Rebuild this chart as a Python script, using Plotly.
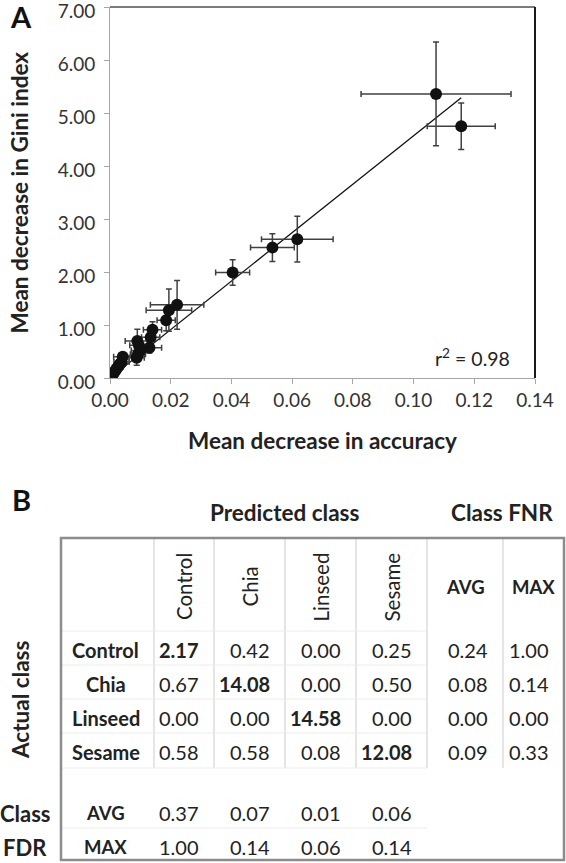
import plotly.graph_objects as go

# ---------------- Panel A data ----------------
acc = [0.1074, 0.1157, 0.0617, 0.0535, 0.0404, 0.0221, 0.0194, 0.0185, 0.0140, 0.0134,
       0.0130, 0.0090, 0.0095, 0.0100, 0.0092, 0.0088, 0.0042, 0.0038, 0.0032, 0.0028,
       0.0022, 0.0018, 0.0013, 0.0009, 0.0006, 0.0003, 0.0001, 0.0000]
acc_err = [0.0247, 0.0112, 0.0118, 0.0072, 0.0056, 0.0088, 0.0075, 0.0030, 0.0030, 0.0030,
           0.0040, 0.0040, 0.0030, 0.0030, 0.0025, 0.0025, 0.0030, 0.0025, 0.0015, 0.0015,
           0.0012, 0.0010, 0.0008, 0.0006, 0.0004, 0.0003, 0.0002, 0.0001]
gini = [5.36, 4.75, 2.62, 2.46, 1.99, 1.38, 1.28, 1.09, 0.91, 0.77,
        0.57, 0.70, 0.62, 0.52, 0.45, 0.38, 0.40, 0.30, 0.26, 0.22,
        0.18, 0.14, 0.10, 0.07, 0.05, 0.03, 0.01, 0.00]
gini_err = [0.98, 0.44, 0.43, 0.26, 0.24, 0.46, 0.40, 0.20, 0.15, 0.15,
            0.10, 0.22, 0.15, 0.12, 0.12, 0.14, 0.06, 0.08, 0.05, 0.05,
            0.04, 0.03, 0.03, 0.02, 0.02, 0.01, 0.01, 0.01]
fit_slope = 45.7
fit_intercept = 0.0
fit_x = [0.0, 0.1157]
r2_text = "r<sup>2</sup> = 0.98"
x_ticks = [0.00, 0.02, 0.04, 0.06, 0.08, 0.10, 0.12, 0.14]
y_ticks = [0, 1, 2, 3, 4, 5, 6, 7]

# ---------------- Panel B data ----------------
classes = ["Control", "Chia", "Linseed", "Sesame"]
conf = [
    [2.17, 0.42, 0.00, 0.25],
    [0.67, 14.08, 0.00, 0.50],
    [0.00, 0.00, 14.58, 0.00],
    [0.58, 0.58, 0.08, 12.08],
]
fnr_avg = [0.24, 0.08, 0.00, 0.09]
fnr_max = [1.00, 0.14, 0.00, 0.33]
fdr_avg = [0.37, 0.07, 0.01, 0.06]
fdr_max = [1.00, 0.14, 0.06, 0.14]

# ---------------- layout constants ----------------
W, H = 566, 863
FONT = "Lato"
TXT = "#222222"
col_edges = [61, 154, 214, 285, 356, 427, 503, 564]
row_centers = [650, 684, 718, 752]
fdr_centers = [813, 847]
hdr_y = 587

fig = go.Figure()

fig.add_trace(go.Scatter(
    x=fit_x, y=[fit_intercept + fit_slope * v for v in fit_x],
    mode="lines", line=dict(color="#111111", width=1.3),
    showlegend=False, hoverinfo="skip"))

fig.add_trace(go.Scatter(
    x=acc, y=gini, mode="markers",
    marker=dict(color="#111111", size=12),
    error_x=dict(type="data", array=acc_err, color="#404040", thickness=1.5, width=3),
    error_y=dict(type="data", array=gini_err, color="#404040", thickness=1.5, width=3),
    showlegend=False))

ann = []
shapes = []

def fx(x):
    return x / W

def fy(y):
    return 1 - y / H

def px(x, y, text, size=20, bold=False, xanchor="center", angle=0, color=TXT):
    ann.append(dict(x=fx(x), y=fy(y), xref="paper", yref="paper",
                    text=(f"<b>{text}</b>" if bold else text),
                    showarrow=False, xanchor=xanchor, yanchor="middle", textangle=angle,
                    font=dict(family=FONT, size=size, color=color)))

def line(x0, y0, x1, y1, color, width):
    shapes.append(dict(type="line", xref="paper", yref="paper",
                       x0=fx(x0), y0=fy(y0), x1=fx(x1), y1=fy(y1),
                       line=dict(color=color, width=width), layer="below"))

# Panel A labels
px(21, 17, "A", size=29, bold=True, color="#111111")
px(19, 192.5, "Mean decrease in Gini index", size=22.5, bold=True, angle=-90)
px(322.5, 440, "Mean decrease in accuracy", size=22.5, bold=True)
px(472, 357, r2_text, size=19.5)

# plot frame (top, right)
shapes.append(dict(type="line", xref="x domain", yref="y domain", x0=0, y0=1, x1=1, y1=1,
                   line=dict(color="#505050", width=1.5)))
shapes.append(dict(type="line", xref="x domain", yref="y domain", x0=1, y0=0, x1=1, y1=1,
                   line=dict(color="#1a1a1a", width=2)))

# Panel B
px(21, 499, "B", size=29, bold=True, color="#111111")
px(284, 512, "Predicted class", size=22.5, bold=True)
px(502, 512, "Class FNR", size=22.5, bold=True)
px(20, 700, "Actual class", size=22.5, bold=True, angle=-90)
px(25, fdr_centers[0], "Class", size=22, bold=True)
px(25, fdr_centers[1], "FDR", size=22, bold=True)

# grid lines
for xe in col_edges[1:7]:
    line(xe, 538, xe, 768, "#dcdcdc", 1.5)
for ye in [631, 665, 699, 733, 768, 828]:
    line(col_edges[0], ye, col_edges[5], ye, "#ececec", 1)
shapes.append(dict(type="rect", xref="paper", yref="paper", x0=fx(col_edges[0]), y0=fy(538),
                   x1=fx(col_edges[7]), y1=fy(860), line=dict(color="#8c8c8c", width=2.5)))

centers = [(col_edges[i] + col_edges[i + 1]) / 2 for i in range(len(col_edges) - 1)]
for j, c in enumerate(classes):
    px(centers[j + 1], hdr_y, c, size=20.5, angle=-90)
px(centers[5], hdr_y, "AVG", size=18.5, bold=True)
px(centers[6], hdr_y, "MAX", size=18.5, bold=True)

for i, c in enumerate(classes):
    y = row_centers[i]
    px(centers[0] - 2, y, c, size=20, bold=True)
    for j in range(4):
        px(col_edges[j + 2] - 13, y, f"{conf[i][j]:.2f}", size=20, bold=(i == j), xanchor="right")
    px(col_edges[6] - 13, y, f"{fnr_avg[i]:.2f}", size=20, xanchor="right")
    px(col_edges[7] - 13, y, f"{fnr_max[i]:.2f}", size=20, xanchor="right")

px(centers[0] - 2, fdr_centers[0], "AVG", size=18.5, bold=True)
px(centers[0] - 2, fdr_centers[1], "MAX", size=18.5, bold=True)
for j in range(4):
    px(col_edges[j + 2] - 13, fdr_centers[0], f"{fdr_avg[j]:.2f}", size=20, xanchor="right")
    px(col_edges[j + 2] - 13, fdr_centers[1], f"{fdr_max[j]:.2f}", size=20, xanchor="right")

axis_common = dict(showgrid=False, zeroline=False, showline=True, linecolor="#a6a6a6",
                   linewidth=1, ticks="outside", ticklen=5, tickcolor="#a6a6a6",
                   tickformat=".2f", automargin=False, ticklabeloverflow="allow",
                   tickfont=dict(family=FONT, size=19, color="#333333"))

fig.update_layout(
    template="none",
    width=W, height=H, margin=dict(l=0, r=0, t=0, b=0, pad=0, autoexpand=False),
    paper_bgcolor="white", plot_bgcolor="white",
    xaxis=dict(domain=[110 / W, 535 / W], range=[0, 0.14], tickvals=x_ticks, anchor="y",
               **axis_common),
    yaxis=dict(domain=[1 - 378 / H, 1 - 7 / H], range=[0, 7], tickvals=y_ticks, anchor="x",
               ticklabelshift=4, ticklabelstandoff=5, **axis_common),
    annotations=ann, shapes=shapes, showlegend=False,
)

fig.write_html(
    "out.html",
    config={"displayModeBar": False},
    post_script="document.body.style.margin='0';document.body.style.padding='0';"
                "document.body.style.overflow='hidden';",
)
